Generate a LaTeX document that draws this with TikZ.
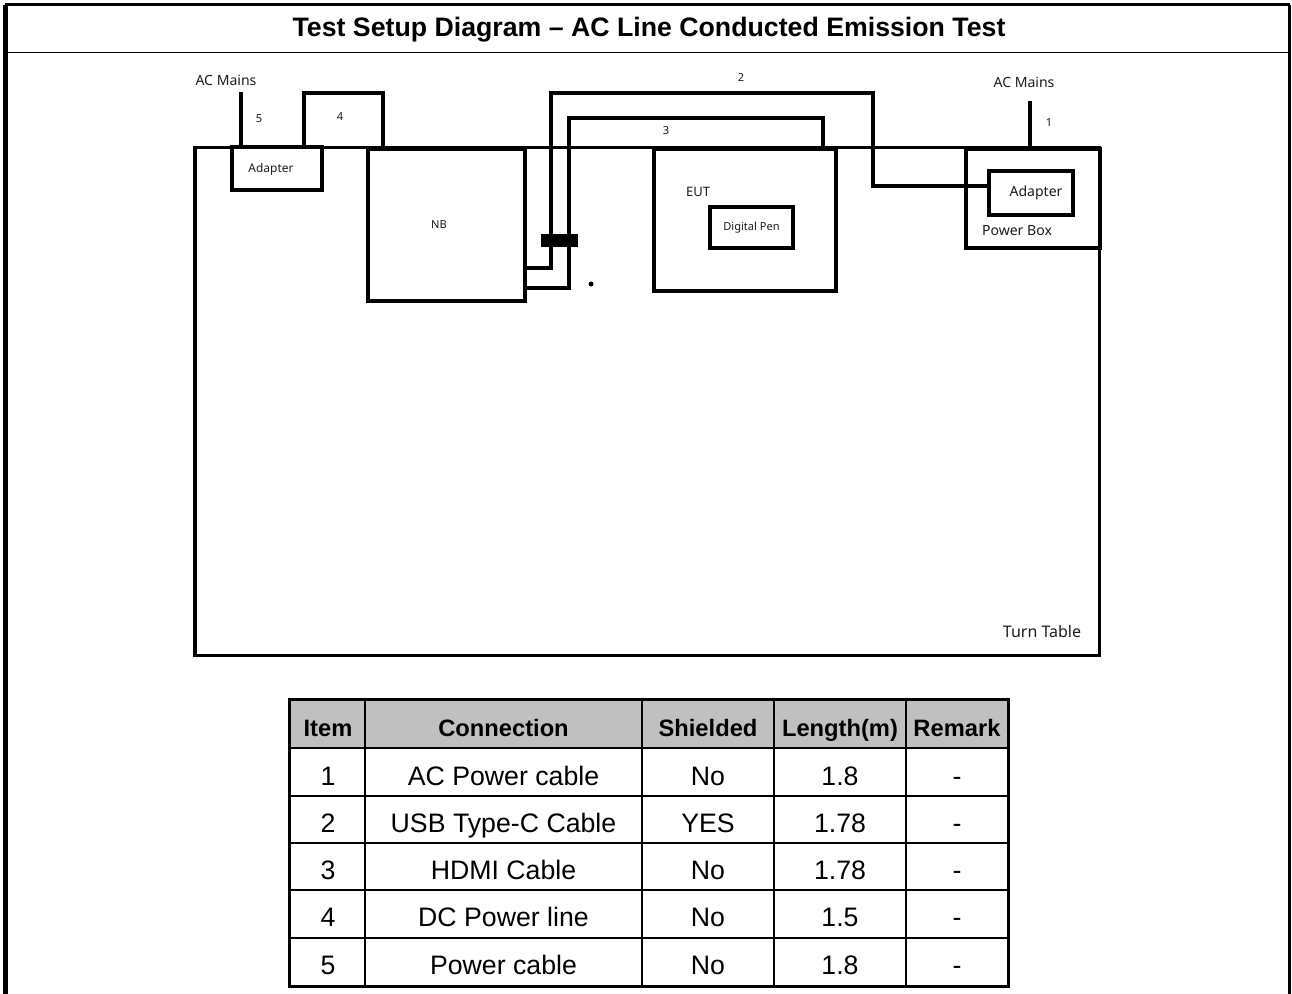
\documentclass[tikz,border=0pt]{standalone}
\usepackage{fontspec}
\setmainfont{Liberation Sans}
\newfontfamily\diagfont{Noto Sans}
\usetikzlibrary{positioning}
\definecolor{Ink}{HTML}{1C1C1C}
\definecolor{HeadGray}{HTML}{C0C0C0}

\tikzset{
  box/.style={draw, line width=2.1pt, inner sep=0pt},
  cable/.style={line width=2.1pt},
  lbl/.style={font=\diagfont\fontsize{8}{9.6}\selectfont, text=Ink, inner sep=0pt},
  smalllbl/.style={font=\diagfont\fontsize{6.3}{7.5}\selectfont, text=Ink, inner sep=0pt},
  cell/.style={font=\fontsize{15.2}{18}\selectfont, inner sep=0pt, anchor=base},
  headcell/.style={font=\bfseries\fontsize{13.5}{16}\selectfont, inner sep=0pt, anchor=base},
}

\begin{document}
\begin{tikzpicture}[x=0.02cm, y=-0.02cm]
    \useasboundingbox (0,0) rectangle (1292,994);
    % frame and title
    \draw[line width=2.3pt] (5.5,994) -- (5.5,4.5);
    \draw[line width=1.8pt] (4.5,4.5) -- (1289.5,4.5);
    \draw[line width=1.4pt] (1289.5,4.5) -- (1289.5,994);
    \draw[line width=1.1pt] (5.5,52.5) -- (1289.5,52.5);
    \node[font=\bfseries\fontsize{15.2}{18}\selectfont] (title) at (649,30) {Test Setup Diagram – AC Line Conducted Emission Test};

    % turn table and equipment
    \node[box, minimum width=18.09cm, minimum height=10.16cm] (turn) at (647.25,401.5) {};
    \node[lbl, font=\diagfont\fontsize{9.1}{11}\selectfont] (ttlbl) at (1042,631) {Turn Table};
    \node[box, minimum width=1.8cm, minimum height=0.86cm] (adL) at (277,168.5) {};
    \node[smalllbl, font=\diagfont\fontsize{6.8}{8}\selectfont] (adLlbl) at (271,169) {Adapter};
    \node[box, minimum width=3.14cm, minimum height=3.04cm, smalllbl] (nb) at (446.5,225) {};
    \node[smalllbl] (nblbl) at (439,225) {NB};
    \node[box, minimum width=3.64cm, minimum height=2.84cm] (eut) at (745,220) {};
    \node[lbl, font=\diagfont\fontsize{7.4}{9}\selectfont] (eutlbl) at (698,192) {EUT};
    \node[box, minimum width=1.66cm, minimum height=0.82cm, smalllbl] (pen) at (751.5,227.5) {Digital Pen};
    \node[box, minimum width=2.68cm, minimum height=1.98cm] (pwr) at (1033,198.5) {};
    \node[lbl] (pwrlbl) at (1017,231) {Power Box};
    \node[box, minimum width=1.68cm, minimum height=0.88cm] (adR) at (1031,193) {};
    \node[lbl] (adRlbl) at (1036,193) {Adapter};
    \node[fill, minimum width=0.74cm, minimum height=0.26cm, inner sep=0pt] (core) at (559.5,240.5) {};
    \node[circle, fill, minimum size=0.1cm, inner sep=0pt] (dot) at (591,284) {};

    % mains labels
    \node[lbl] (acL) at (226,80) {AC Mains};
    \node[lbl] (acR) at (1024,82) {AC Mains};

    % cables
    \coordinate (acLend) at (241,92);
    \draw[cable] (acLend) -- (acLend |- adL.north);
    \coordinate (c4l) at (304,93);
    \coordinate (c4r) at (383,93);
    \draw[cable] (c4l |- adL.north) -- (c4l) -- (c4r) -- (c4r |- nb.north);
    \coordinate (c2a) at (551,268);
    \coordinate (c2b) at (873,93);
    \coordinate (c2c) at (873,186);
    \draw[cable] (c2a -| nb.east) -- (c2a) |- (c2b) -- (c2c) -- (c2c -| adR.west);
    \coordinate (c3a) at (569,288);
    \coordinate (c3b) at (823,118);
    \draw[cable] (c3a -| nb.east) -- (c3a) |- (c3b) -- (c3b |- eut.north);
    \coordinate (acRend) at (1030,101);
    \draw[cable] (acRend) -- (acRend |- pwr.north);

    % cable numbers
    \node[smalllbl] (n1) at (1049,123) {1};
    \node[smalllbl] (n2) at (741,77) {2};
    \node[smalllbl] (n3) at (666,131) {3};
    \node[smalllbl] (n4) at (340,117) {4};
    \node[smalllbl] (n5) at (259,119) {5};

    % cable list
    \fill[HeadGray] (289.5,699.5) rectangle (1008.5,748);
    \foreach \y in {748,796,843,890,938}
      \draw[line width=1.2pt] (289.5,\y) -- (1008.5,\y);
    \foreach \x in {365,642,774,906}
      \draw[line width=1.2pt] (\x,699.5) -- (\x,986.5);
    \draw[line width=2.2pt] (289.5,699.5) rectangle (1008.5,986.5);
    \foreach \x/\t [count=\c] in {328/Item, 503.5/Connection, 708/Shielded, 840/Length(m), 957/Remark}
      \node[headcell] (head\c) at (\x,736) {\t};
    \foreach \idx/\conn/\shd/\len [count=\r] in {1/AC Power cable/No/1.8, 2/USB Type-C Cable/YES/1.78, 3/HDMI Cable/No/1.78, 4/DC Power line/No/1.5, 5/Power cable/No/1.8} {
      \pgfmathsetmacro\yb{785+(\r-1)*47.25}
      \node[cell] (item\r) at (328,\yb) {\idx};
      \node[cell] (conn\r) at (503.5,\yb) {\conn};
      \node[cell] (shd\r) at (708,\yb) {\shd};
      \node[cell] (len\r) at (840,\yb) {\len};
      \node[cell] (rem\r) at (957,\yb) {-};
    }
\end{tikzpicture}
\end{document}
